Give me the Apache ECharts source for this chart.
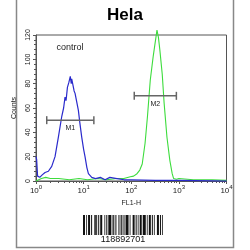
<!DOCTYPE html>
<html><head><meta charset="utf-8">
<script src="https://cdn.jsdelivr.net/npm/echarts@6/dist/echarts.min.js"></script>
<style>html,body{margin:0;padding:0;background:#fff}#c{width:250px;height:250px}</style>
</head><body><div id="c"></div>
<script>
// Control (blue) histogram: [FL1-H, counts]
const controlX = [1.0,1.03,1.08,1.2,1.35,1.55,1.82,2.14,2.51,2.95,3.47,3.8,4.07,4.27,4.57,4.9,5.25,5.5,5.62,6.03,6.31,6.61,7.08,7.76,8.32,9.12,10,10.7,11.7,12.6,14.8,17.8,22.4,28.2,35.5,50,70.8,100,316,1000,10000];
const controlY = [20,18,4,3,5,7,8,12,20,36,53,60,69,66,77,81,86,80,84,78,74,72,66,58,48,36,26,20,11,6,3,2,3,1,3,2,1,1,0.5,0.5,0];
// Hela (green) histogram
const helaX = [1.0,1.1,1.3,1.6,2,3,5,8,12,20,30,50,70,95.5,112,132,151,170,195,219,251,288,324,347,372,398,447,490,562,646,724,776,891,1000,2000,5000,10000];
const helaY = [0,1,2,3,2,2,1,2,1,2,1,2,2,3.5,4,6,9,14,31,53,83,102,116,124,118,108,88,64,36,17,6,2,1.5,2,1,1,0.5];
// Gates
const gateNames = ['M1','M2'];
const gateFrom = [1.68,115.6];
const gateTo = [16.4,886];
const gateLevel = [50,70];
const yTicks = [0,20,40,60,80,100,120];
const barcodeText = '118892701';

const chart = echarts.init(document.getElementById('c'), null, {renderer:'canvas'});
const toPairs = (xs, ys) => xs.map((x,i)=>[x, ys[i]]);
const gates = gateNames.map((n,i)=>[gateFrom[i], gateTo[i], gateLevel[i], n]);

// barcode pattern (bar, space widths)
const bcWidths = [2,1,1,1,2,1,1,2,3,1,1,1,2,2,1,1,1,1,3,1,2,1,1,2,1,1,2,1,1,1,3,1,1,2,2,1,1,1,1,1,2,1,3,1,1,1,2,1,1,1,1,2,2,1,1,1,1,1];
const bcTotal = bcWidths.reduce((s,w)=>s+w,0);
const bcScale = 81/bcTotal;
const bcEls = [];
let bx = 83;
bcWidths.forEach((w,i)=>{ const ww = w*bcScale; if(i%2===0) bcEls.push({type:'rect',shape:{x:bx,y:215,width:ww,height:20},style:{fill:i%6===2?'#444':'#111'}}); bx += ww; });

chart.setOption({
  animation:false,
  backgroundColor:'#fff',
  title:{text:'Hela',left:'center',top:2,textStyle:{fontFamily:'Liberation Sans',fontWeight:'bold',fontSize:17,color:'#000'}},
  grid:{left:36,right:23.5,top:35,bottom:69,show:true,borderColor:'#555',borderWidth:1},
  xAxis:{type:'log',logBase:10,min:1,max:10000,name:'FL1-H',nameLocation:'middle',nameGap:14,
    nameTextStyle:{fontFamily:'Liberation Sans',fontSize:7,color:'#222'},
    axisLine:{lineStyle:{color:'#555'}},
    axisTick:{show:true,length:3,lineStyle:{color:'#555'}},
    minorTick:{show:true,splitNumber:9,length:2,lineStyle:{color:'#555'}},
    splitLine:{show:false},
    axisLabel:{margin:3,formatter:v=>'{b|10}{s|'+Math.round(Math.log10(v))+'}',
      rich:{b:{fontFamily:'Liberation Sans',fontSize:8,color:'#222',verticalAlign:'bottom'},s:{fontFamily:'Liberation Sans',fontSize:6,color:'#222',verticalAlign:'top',padding:[0,0,5,0]}}}},
  yAxis:{type:'value',min:0,max:120,interval:20,name:'Counts',nameLocation:'middle',nameGap:13,
    nameTextStyle:{fontFamily:'Liberation Sans',fontSize:7,color:'#222'},
    axisLine:{show:true,lineStyle:{color:'#555'}},
    axisTick:{show:true,length:3,lineStyle:{color:'#555'}},
    minorTick:{show:true,splitNumber:5,length:2,lineStyle:{color:'#555'}},
    splitLine:{show:false},
    axisLabel:{rotate:90,margin:4,fontFamily:'Liberation Sans',fontSize:7,color:'#222',
      formatter:v=>yTicks.includes(v)?String(v):''}},
  series:[
    {type:'line',data:toPairs(helaX,helaY),symbol:'none',clip:false,lineStyle:{color:'#3ddc3d',width:1.1},z:2},
    {type:'line',data:toPairs(controlX,controlY),symbol:'none',clip:false,lineStyle:{color:'#2a2acc',width:1.2},z:3},
    {type:'custom',data:gates,z:5,renderItem:(params,api)=>{
      const a = api.coord([api.value(0), api.value(2)]);
      const b = api.coord([api.value(1), api.value(2)]);
      const st = {stroke:'#666',lineWidth:1.5};
      return {type:'group',children:[
        {type:'line',shape:{x1:a[0],y1:a[1],x2:b[0],y2:b[1]},style:st},
        {type:'line',shape:{x1:a[0],y1:a[1]-4,x2:a[0],y2:a[1]+4},style:st},
        {type:'line',shape:{x1:b[0],y1:b[1]-4,x2:b[0],y2:b[1]+4},style:st},
        {type:'text',style:{text:gates[params.dataIndex][3],x:(a[0]+b[0])/2,y:a[1]+8,align:'center',verticalAlign:'middle',fontFamily:'Liberation Sans',fontSize:7,fill:'#222'}}
      ]};
    }}
  ],
  graphic:[
    {type:'rect',shape:{x:16.5,y:-1,width:217,height:248.5},style:{fill:'none',stroke:'#888',lineWidth:1.5},silent:true},
    {type:'text',style:{text:'control',x:70,y:48,align:'center',verticalAlign:'middle',fontFamily:'Liberation Sans',fontSize:9,fill:'#222'}},
    {type:'group',children:bcEls},
    {type:'text',style:{text:barcodeText,x:123,y:240,align:'center',verticalAlign:'middle',fontFamily:'Liberation Sans',fontSize:9,fill:'#111'}}
  ]
});
</script></body></html>
